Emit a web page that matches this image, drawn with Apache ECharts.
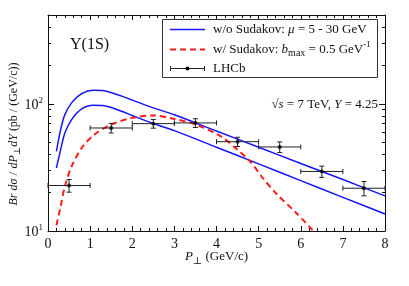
<!DOCTYPE html>
<html>
<head>
<meta charset="utf-8">
<script src="https://cdn.jsdelivr.net/npm/echarts@6/dist/echarts.min.js"></script>
<style>html,body{margin:0;padding:0;background:#fff;}#c{width:409px;height:286px;}</style>
</head>
<body>
<div id="c"></div>
<script>
// ---- data ----
var xTicks = [0, 1, 2, 3, 4, 5, 6, 7, 8];
var yMajorTicks = [10, 100];
var yMinorTicks = [20, 30, 40, 50, 60, 70, 80, 90, 200, 300, 400, 500];

var upperX = [0.2, 0.3, 0.4, 0.56, 0.8, 1.08, 1.3, 1.75, 2, 2.5, 3, 4, 5, 6, 7, 8];
var upperY = [42.3, 62.7, 82.3, 101.8, 120.5, 128, 127.4, 115, 107, 93, 82, 61.1, 45.6, 34, 25.4, 18.9];
var lowerX = [0.2, 0.3, 0.4, 0.56, 0.8, 1.08, 1.3, 1.75, 2, 2.5, 3, 4, 5, 6, 7, 8];
var lowerY = [31.3, 43.6, 59, 75.2, 91.3, 97.5, 97, 87.5, 81, 70, 61.6, 45.6, 33.7, 24.9, 18.4, 13.6];
var sudX = [0.2, 0.3, 0.4, 0.56, 0.8, 1.1, 1.5, 2, 2.5, 3, 3.5, 4.1, 4.5, 4.8, 5.1, 5.4, 5.9, 6.3];
var sudY = [11.1, 15.6, 22.4, 32.2, 45, 57.3, 68.7, 77.6, 81, 76, 69, 55.5, 43.6, 35.2, 26.1, 20, 13.8, 10];

var lhcbX = [0.5, 1.5, 2.5, 3.5, 4.5, 5.5, 6.5, 7.5];
var lhcbY = [22.8, 64.6, 69.9, 70.8, 50.4, 45.8, 29.4, 21.7];
var lhcbXErr = [0.5, 0.5, 0.5, 0.5, 0.5, 0.5, 0.5, 0.5];
var lhcbYErr = [2.6, 5.6, 5.5, 5.6, 4.2, 4.4, 3.0, 2.8];

// ---- build ----
function zip(xs, ys) { return xs.map(function (x, i) { return [x, ys[i]]; }); }
var errData = lhcbX.map(function (x, i) { return [x, lhcbY[i], lhcbXErr[i], lhcbYErr[i]]; });

var SERIF = '"Liberation Serif", "DejaVu Serif", serif';
var BLUE = '#1414ff', RED = '#ff1a1a', INK = '#111';

var chart = echarts.init(document.getElementById('c'), null, { renderer: 'canvas' });

function yAxisCfg(pos, ticks, len, labels) {
  return {
    type: 'log', logBase: 10, min: 10, max: 500, position: pos,
    axisLine: { show: labels !== null, lineStyle: { color: INK, width: 1 } },
    axisTick: { show: true, inside: true, length: len, customValues: ticks, lineStyle: { color: INK } },
    axisLabel: labels ? {
      show: true, customValues: labels, margin: 5,
      formatter: function (v) { return '{b|10}{s|' + Math.round(Math.log10(v)) + '}'; },
      rich: {
        b: { fontFamily: SERIF, fontSize: 14, color: INK, lineHeight: 16, verticalAlign: 'bottom' },
        s: { fontFamily: SERIF, fontSize: 9, color: INK, lineHeight: 16, verticalAlign: 'top' }
      }
    } : { show: false },
    splitLine: { show: false }
  };
}

var option = {
  animation: false,
  backgroundColor: '#fff',
  grid: { left: 48, right: 24, top: 15, bottom: 55, containLabel: false },
  xAxis: [
    {
      type: 'value', min: 0, max: 8, interval: 1, position: 'bottom',
      axisLine: { lineStyle: { color: INK, width: 1 } },
      axisTick: { inside: true, length: 5, lineStyle: { color: INK } },
      minorTick: { show: true, splitNumber: 5, length: 3, lineStyle: { color: INK } },
      axisLabel: { fontFamily: SERIF, fontSize: 14, color: INK, margin: 6,
        customValues: xTicks },
      splitLine: { show: false }
    },
    {
      type: 'value', min: 0, max: 8, interval: 1, position: 'top',
      axisLine: { lineStyle: { color: INK, width: 1 } },
      axisTick: { inside: true, length: 5, lineStyle: { color: INK } },
      minorTick: { show: true, splitNumber: 5, length: 3, lineStyle: { color: INK } },
      axisLabel: { show: false },
      splitLine: { show: false }
    }
  ],
  yAxis: [
    yAxisCfg('left', yMajorTicks, 6, yMajorTicks),
    yAxisCfg('left', yMinorTicks, 3, null),
    (function () { var a = yAxisCfg('right', yMajorTicks, 6, false); a.axisLine.show = true; return a; })(),
    yAxisCfg('right', yMinorTicks, 3, null)
  ],
  series: [
    { type: 'line', name: 'w/o Sudakov upper', data: zip(upperX, upperY), smooth: 0.3, showSymbol: false,
      lineStyle: { color: BLUE, width: 1.5 }, xAxisIndex: 0, yAxisIndex: 0, z: 3 },
    { type: 'line', name: 'w/o Sudakov lower', data: zip(lowerX, lowerY), smooth: 0.3, showSymbol: false,
      lineStyle: { color: BLUE, width: 1.5 }, xAxisIndex: 0, yAxisIndex: 0, z: 3 },
    { type: 'line', name: 'w/ Sudakov', data: zip(sudX, sudY), smooth: 0.3, showSymbol: false,
      lineStyle: { color: RED, width: 2, type: [6, 4] }, xAxisIndex: 0, yAxisIndex: 0, z: 3 },
    {
      type: 'custom', name: 'LHCb err', data: errData, xAxisIndex: 0, yAxisIndex: 0, z: 4,
      renderItem: function (params, api) {
        var x = api.value(0), y = api.value(1), xe = api.value(2), ye = api.value(3);
        var l = api.coord([x - xe, y]), r = api.coord([x + xe, y]);
        var t = api.coord([x, y + ye]), b = api.coord([x, y - ye]);
        var st = { stroke: '#222', lineWidth: 1 };
        var cap = 2.5;
        return { type: 'group', children: [
          { type: 'line', shape: { x1: l[0], y1: l[1], x2: r[0], y2: r[1] }, style: st },
          { type: 'line', shape: { x1: l[0], y1: l[1] - cap, x2: l[0], y2: l[1] + cap }, style: st },
          { type: 'line', shape: { x1: r[0], y1: r[1] - cap, x2: r[0], y2: r[1] + cap }, style: st },
          { type: 'line', shape: { x1: t[0], y1: t[1], x2: b[0], y2: b[1] }, style: st },
          { type: 'line', shape: { x1: t[0] - cap, y1: t[1], x2: t[0] + cap, y2: t[1] }, style: st },
          { type: 'line', shape: { x1: b[0] - cap, y1: b[1], x2: b[0] + cap, y2: b[1] }, style: st }
        ] };
      }
    },
    { type: 'scatter', name: 'LHCb', data: zip(lhcbX, lhcbY), symbol: 'circle', symbolSize: 4,
      itemStyle: { color: '#000' }, xAxisIndex: 0, yAxisIndex: 0, z: 5 }
  ],
  graphic: [
    // y axis title
    { type: 'text', x: 14, y: 134, rotation: Math.PI / 2,
      style: { text: '{i|Br d\u03c3} {n|/} {i|dP}{sub|\u22a5}{i|dY}{n| (pb / (GeV/c))}',
        align: 'center', verticalAlign: 'middle',
        rich: {
          i: { fontFamily: SERIF, fontSize: 12, fontStyle: 'italic', fill: INK, lineHeight: 16 },
          n: { fontFamily: SERIF, fontSize: 12, fill: INK, lineHeight: 16 },
          sub: { fontFamily: SERIF, fontSize: 9, fill: INK, verticalAlign: 'bottom', lineHeight: 16 }
        } } },
    // x axis title
    { type: 'text', x: 216.5, y: 257,
      style: { text: '{i|P}{sub|\u22a5}{n| (GeV/c)}', align: 'center', verticalAlign: 'middle',
        rich: {
          i: { fontFamily: SERIF, fontSize: 13, fontStyle: 'italic', fill: INK, lineHeight: 18 },
          n: { fontFamily: SERIF, fontSize: 13, fill: INK, lineHeight: 18 },
          sub: { fontFamily: SERIF, fontSize: 10, fill: INK, verticalAlign: 'bottom', lineHeight: 18 }
        } } },
    // Y(1S)
    { type: 'text', x: 70, y: 45,
      style: { text: '\u03a5(1S)', fontFamily: SERIF, fontSize: 16, fill: INK, verticalAlign: 'middle' } },
    // sqrt s text
    { type: 'text', x: 378, y: 105,
      style: { text: '{n|\u221a}{i|s}{n| = 7 TeV, }{i|Y}{n| = 4.25}', align: 'right', verticalAlign: 'middle',
        rich: {
          i: { fontFamily: SERIF, fontSize: 13, fontStyle: 'italic', fill: INK },
          n: { fontFamily: SERIF, fontSize: 13, fill: INK }
        } } },
    // legend box
    { type: 'rect', shape: { x: 162.5, y: 19.5, width: 215, height: 58 },
      style: { fill: '#fff', stroke: '#333', lineWidth: 1 }, z: 10 },
    { type: 'line', shape: { x1: 170, y1: 29.5, x2: 205, y2: 29.5 }, style: { stroke: BLUE, lineWidth: 1.5 }, z: 11 },
    { type: 'line', shape: { x1: 170, y1: 49.5, x2: 205, y2: 49.5 }, style: { stroke: RED, lineWidth: 2, lineDash: [6, 4] }, z: 11 },
    { type: 'line', shape: { x1: 170, y1: 68.5, x2: 205, y2: 68.5 }, style: { stroke: '#222', lineWidth: 1 }, z: 11 },
    { type: 'line', shape: { x1: 170.5, y1: 66, x2: 170.5, y2: 71 }, style: { stroke: '#222', lineWidth: 1 }, z: 11 },
    { type: 'line', shape: { x1: 204.5, y1: 66, x2: 204.5, y2: 71 }, style: { stroke: '#222', lineWidth: 1 }, z: 11 },
    { type: 'circle', shape: { cx: 187.5, cy: 68.5, r: 2 }, style: { fill: '#000' }, z: 11 },
    { type: 'text', x: 213, y: 29.5, z: 11,
      style: { text: '{n|w/o Sudakov: }{i|\u03bc}{n| = 5 - 30 GeV}', verticalAlign: 'middle',
        rich: {
          i: { fontFamily: SERIF, fontSize: 13, fontStyle: 'italic', fill: INK },
          n: { fontFamily: SERIF, fontSize: 13, fill: INK }
        } } },
    { type: 'text', x: 213, y: 49.5, z: 11,
      style: { text: '{n|w/ Sudakov: }{i|b}{sub|max}{n| = 0.5 GeV}{sup|-1}', verticalAlign: 'middle',
        rich: {
          i: { fontFamily: SERIF, fontSize: 13, fontStyle: 'italic', fill: INK, lineHeight: 18 },
          n: { fontFamily: SERIF, fontSize: 13, fill: INK, lineHeight: 18 },
          sub: { fontFamily: SERIF, fontSize: 10, fill: INK, verticalAlign: 'bottom', lineHeight: 18 },
          sup: { fontFamily: SERIF, fontSize: 9, fill: INK, verticalAlign: 'top', lineHeight: 18 }
        } } },
    { type: 'text', x: 213, y: 68.5, z: 11,
      style: { text: 'LHCb', fontFamily: SERIF, fontSize: 13, fill: INK, verticalAlign: 'middle' } }
  ]
};
chart.setOption(option);
</script>
</body>
</html>
